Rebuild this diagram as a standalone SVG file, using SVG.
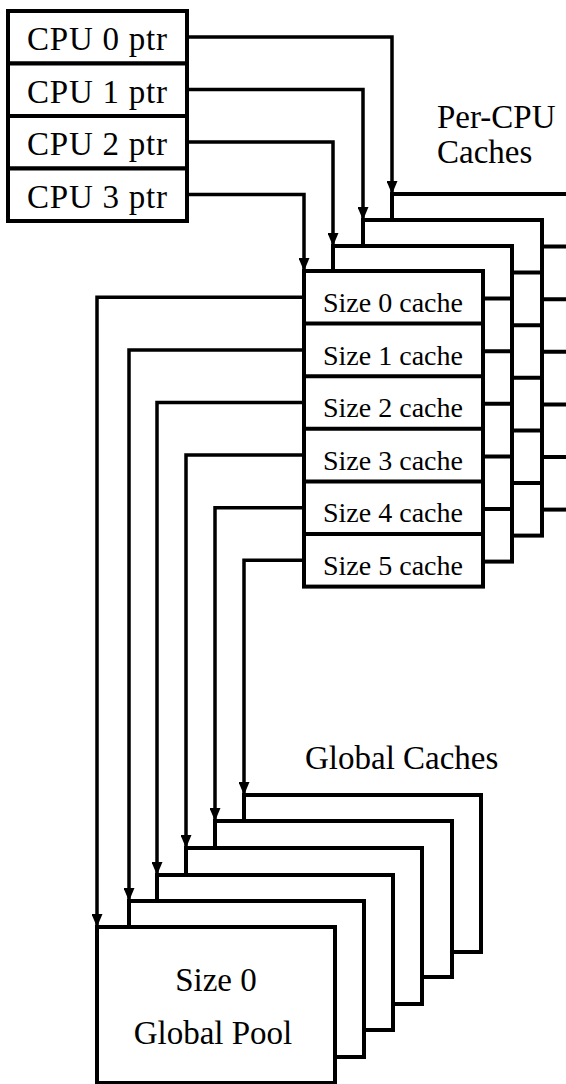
<svg xmlns="http://www.w3.org/2000/svg" width="566" height="1084" viewBox="0 0 566 1084">
  <style>
    .box { fill: #fff; stroke: #000; stroke-width: 4; }
    .div { stroke: #000; stroke-width: 4; }
    .wire { fill: none; stroke: #000; stroke-width: 3.5; marker-end: url(#arrow); }
    text { fill: #000; }
    .big { font-size: 33px; }
    .small { font-size: 28px; }
    .mid { text-anchor: middle; }
  </style>
  <defs>
    <marker id="arrow" markerUnits="userSpaceOnUse" markerWidth="14" markerHeight="11" refX="13" refY="5.5" orient="auto">
      <path d="M0,0 L13,5.5 L0,11 Z" fill="#000"/>
    </marker>
    <!-- six-row cache column, 179 wide, rows 52.6 tall -->
    <g id="cache-column">
      <rect class="box" x="0" y="0" width="179" height="315.6"/>
      <line class="div" x1="0" y1="52.6" x2="179" y2="52.6"/>
      <line class="div" x1="0" y1="105.2" x2="179" y2="105.2"/>
      <line class="div" x1="0" y1="157.8" x2="179" y2="157.8"/>
      <line class="div" x1="0" y1="210.4" x2="179" y2="210.4"/>
      <line class="div" x1="0" y1="263" x2="179" y2="263"/>
    </g>
  </defs>

  <g font-family="'Liberation Serif', 'DejaVu Serif', serif">
  <!-- per-CPU pointer array -->
  <g id="cpu0">
    <rect class="box" x="8" y="11" width="179" height="52.5"/>
    <text class="big" x="27" y="50" textLength="140">CPU 0 ptr</text>
  </g>
  <g id="cpu1">
    <rect class="box" x="8" y="63.5" width="179" height="52.5"/>
    <text class="big" x="27" y="102.5" textLength="140">CPU 1 ptr</text>
  </g>
  <g id="cpu2">
    <rect class="box" x="8" y="116" width="179" height="52.5"/>
    <text class="big" x="27" y="155" textLength="140">CPU 2 ptr</text>
  </g>
  <g id="cpu3">
    <rect class="box" x="8" y="168.5" width="179" height="52.5"/>
    <text class="big" x="27" y="207.5" textLength="140">CPU 3 ptr</text>
  </g>

  <!-- per-CPU cache columns, back to front -->
  <g id="percpu-cache-0"><use href="#cache-column" x="392" y="194"/></g>
  <g id="percpu-cache-1"><use href="#cache-column" x="363" y="220"/></g>
  <g id="percpu-cache-2"><use href="#cache-column" x="333" y="246"/></g>
  <g id="percpu-cache-3">
    <use href="#cache-column" x="304" y="271"/>
    <g id="size0-cache"><text class="small" x="323" y="312">Size 0 cache</text></g>
    <g id="size1-cache"><text class="small" x="323" y="364.6">Size 1 cache</text></g>
    <g id="size2-cache"><text class="small" x="323" y="417.2">Size 2 cache</text></g>
    <g id="size3-cache"><text class="small" x="323" y="469.8">Size 3 cache</text></g>
    <g id="size4-cache"><text class="small" x="323" y="522.4">Size 4 cache</text></g>
    <g id="size5-cache"><text class="small" x="323" y="575">Size 5 cache</text></g>
  </g>

  <!-- global pools, back to front -->
  <g id="global-pool-5"><rect class="box" x="244" y="795" width="237" height="157"/></g>
  <g id="global-pool-4"><rect class="box" x="215" y="821" width="237" height="156"/></g>
  <g id="global-pool-3"><rect class="box" x="186" y="848" width="236" height="156"/></g>
  <g id="global-pool-2"><rect class="box" x="157" y="875" width="236" height="155"/></g>
  <g id="global-pool-1"><rect class="box" x="129" y="901" width="235" height="156"/></g>
  <g id="global-pool-0">
    <rect class="box" x="97" y="927" width="238" height="156"/>
    <text class="big mid" x="216" y="991">Size 0</text>
    <text class="big mid" x="213" y="1044">Global Pool</text>
  </g>

  <!-- labels -->
  <g id="labels">
    <text class="big" x="437" y="128">Per-CPU</text>
    <text class="big" x="437" y="163">Caches</text>
    <text class="big" x="305" y="769">Global Caches</text>
  </g>
  </g>

  <!-- connectors -->
  <g id="connectors">
    <path class="wire" d="M187,37 H392 V194"/>
    <path class="wire" d="M187,89.5 H363 V220"/>
    <path class="wire" d="M187,142 H333 V246"/>
    <path class="wire" d="M187,194.5 H304 V271"/>

    <path class="wire" d="M304,297.3 H97 V927"/>
    <path class="wire" d="M304,349.9 H129 V901"/>
    <path class="wire" d="M304,402.5 H157 V875"/>
    <path class="wire" d="M304,455.1 H186 V848"/>
    <path class="wire" d="M304,507.7 H215 V821"/>
    <path class="wire" d="M304,560.3 H244 V795"/>
  </g>
</svg>
